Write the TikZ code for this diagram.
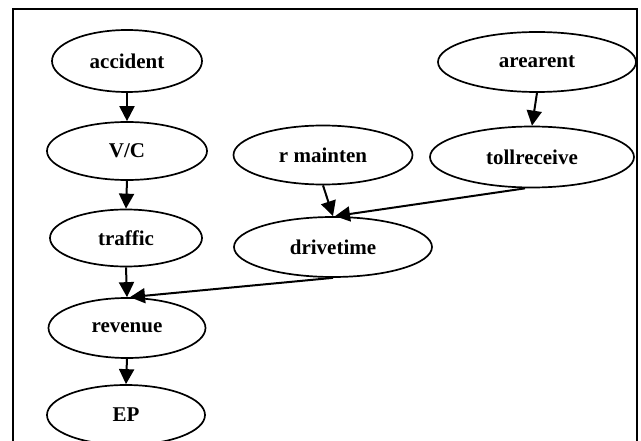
\documentclass[tikz,border=0pt]{standalone}
\usepackage{fontspec}
\setmainfont{Liberation Serif}
\usetikzlibrary{shapes.geometric,arrows.meta}
\begin{document}
\begin{tikzpicture}[x=1pt,y=-1pt,
  nd/.style={draw,ellipse,line width=1.7pt,inner sep=0pt,font=\fontsize{21}{24}\selectfont\bfseries},
  edge/.style={line width=2pt,-{Triangle[length=15pt,width=15pt]}}]
\clip (0,0) rectangle (641,441);
\fill[white] (0,0) rectangle (641,441);
\draw[line width=2pt] (13,9) rectangle (637,460);
\node[nd,minimum width=150pt,minimum height=62pt] (acc) at (127,61) {accident};
\node[nd,minimum width=160pt,minimum height=58pt] (vc) at (127,151) {V/C};
\node[nd,minimum width=152pt,minimum height=57pt] (tr) at (126,238) {traffic};
\node[nd,minimum width=157pt,minimum height=60pt] (rev) at (127,328) {revenue};
\node[nd,minimum width=158pt,minimum height=60pt] (ep) at (126,415) {EP};
\node[nd,minimum width=179pt,minimum height=59pt] (rm) at (323,155) {r mainten};
\node[nd,minimum width=198pt,minimum height=60pt] (dt) at (333,247) {drivetime};
\node[nd,minimum width=198pt,minimum height=60pt] (ar) at (537,62) {arearent};
\node[nd,minimum width=204pt,minimum height=61pt] (tc) at (532,157) {tollreceive};
\draw[edge] (acc.south) -- (vc.north);
\draw[edge] (vc.south) -- (tr.north);
\draw[edge] (tr.south) -- (rev.north);
\draw[edge] (rev.south) -- (ep.north);
\draw[edge] (ar.south) -- (tc.north);
\draw[edge] (rm.south) -- (dt.north);
\draw[edge] ([xshift=-7pt]tc.south) -- ([xshift=2pt]dt.north);
\draw[edge] (dt.south) -- ([xshift=3pt]rev.north);
\end{tikzpicture}
\end{document}
